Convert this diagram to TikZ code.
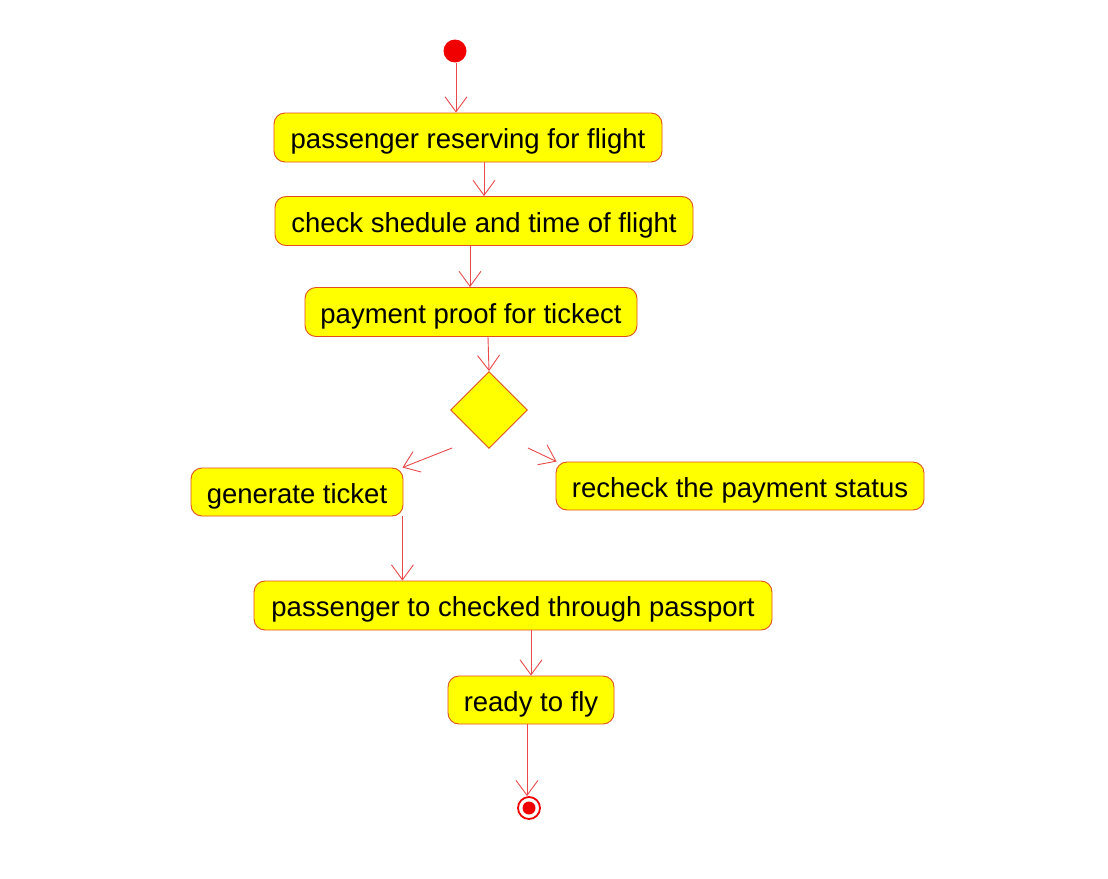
\documentclass[tikz,border=0pt]{standalone}
\usepackage{fontspec}
\setmainfont{Liberation Sans}
\usetikzlibrary{arrows.meta,shapes.geometric}
\definecolor{boxline}{HTML}{E0501E}
\definecolor{arrline}{HTML}{E84A4A}
\definecolor{boxfill}{HTML}{FFFF00}
\definecolor{dotred}{HTML}{F00000}
\tikzset{
  x=1pt,y=-1pt,
  act/.style={draw=boxline,fill=boxfill,line width=0.9pt,rounded corners=11pt,
    minimum height=49pt,inner sep=0pt,text height=22pt,text depth=0pt,
    font=\fontsize{27.5}{30}\selectfont,text=black},
  arr/.style={draw=arrline,line width=0.9pt,-{Straight Barb[length=15pt,width=22pt,line width=0.9pt]}},
  dec/.style={draw=boxline,fill=boxfill,line width=0.9pt,diamond,aspect=1,minimum width=77pt,minimum height=77pt,inner sep=0pt},
}
\begin{document}
\begin{tikzpicture}
\useasboundingbox (0,0) rectangle (1108,878);
\fill[white] (0,0) rectangle (1108,878);
\node[circle,fill=dotred,minimum size=23pt,inner sep=0pt] (start) at (455,51) {};
\node[act,minimum width=388pt] (b1) at (468,137.5) {passenger reserving for flight};
\node[act,minimum width=418pt] (b2) at (484,221) {check shedule and time of flight};
\node[act,minimum width=332pt] (b3) at (471,312) {payment proof for tickect};
\node[dec] (d) at (489,410) {};
\node[act,minimum width=212pt,minimum height=48pt] (b4) at (297,492) {generate ticket};
\node[act,minimum width=368pt,minimum height=48pt] (b5) at (740,486) {recheck the payment status};
\node[act,minimum width=518pt] (b6) at (513,605.5) {passenger to checked through passport};
\node[act,minimum width=166pt,minimum height=48pt] (b7) at (531,700) {ready to fly};
\node[circle,draw=dotred,line width=1.8pt,fill=white,minimum size=22pt,inner sep=0pt] (endo) at (529,808) {};
\node[circle,fill=dotred,minimum size=13pt,inner sep=0pt] (endi) at (529,808) {};
\coordinate (dl) at (452,448);
\coordinate (dr) at (528,448);
\draw[arr] (start.south -| 456,0) -- (456,0 |- b1.north);
\draw[arr] ([xshift=16pt]b1.south) -- ([xshift=16pt]b1.south |- b2.north);
\draw[arr] ([xshift=-14pt]b2.south) -- ([xshift=-14pt]b2.south |- b3.north);
\draw[arr] ([xshift=17pt]b3.south) -- (d.north);
\draw[arr] (dl) -- ([xshift=-1pt]b4.north east);
\draw[arr] (dr) -- ([xshift=1pt]b5.north west);
\draw[arr] ([xshift=-1pt]b4.south east) -- ([xshift=-1pt]b4.south east |- b6.north);
\draw[arr] ([xshift=18pt]b6.south) -- ([xshift=18pt]b6.south |- b7.north);
\draw[arr] ([xshift=-4pt]b7.south) -- ([xshift=-4pt]b7.south |- endo.north);
\end{tikzpicture}
\end{document}
